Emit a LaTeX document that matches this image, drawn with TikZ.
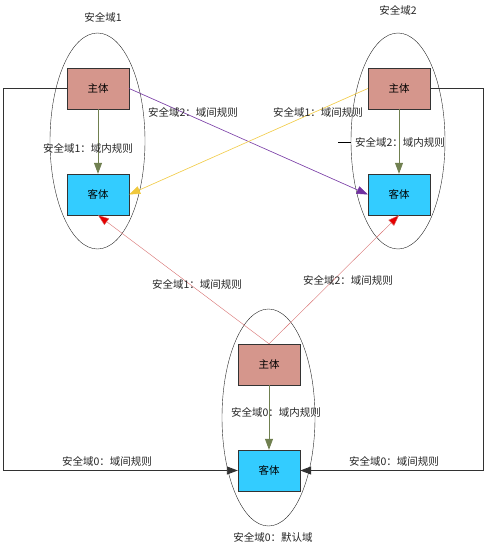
\documentclass[tikz,border=0pt]{standalone}
\usepackage{fontspec}
\setmainfont{Noto Sans CJK SC}
\usetikzlibrary{arrows.meta}
\definecolor{subjfill}{RGB}{213,150,140}
\definecolor{objfill}{RGB}{51,204,255}
\definecolor{inner}{RGB}{112,128,80}
\definecolor{purp}{RGB}{112,48,160}
\definecolor{yell}{RGB}{240,200,60}
\definecolor{redline}{RGB}{215,110,110}
\definecolor{wire}{RGB}{50,50,50}
\tikzset{
  subj/.style={draw=black!80, fill=subjfill, minimum width=62pt, minimum height=41pt, inner sep=0pt, font=\fontsize{10.5}{12}\selectfont},
  obj/.style={draw=black!80, fill=objfill, minimum width=62pt, minimum height=41pt, inner sep=0pt, font=\fontsize{10.5}{12}\selectfont},
  lbl/.style={inner sep=1pt, text=black!85, font=\fontsize{10.5}{12}\selectfont},
  tip/.style={-{Triangle[length=11pt,width=8pt]}},
  redtip/.style={-{Triangle[length=11pt,width=8pt,fill=red!90!black]}},
}
\begin{document}
\begin{tikzpicture}[x=1pt,y=-1pt]
\useasboundingbox (0,0) rectangle (485,548);

% Domains
\draw[black!85] (97.5,141) ellipse [x radius=47.5, y radius=108];
\draw[black!85] (398,141) ellipse [x radius=47, y radius=108];
\draw[black!85] (268.5,417.5) ellipse [x radius=46.5, y radius=108.5];
\node[lbl] (d1) at (103,17) {安全域1};
\node[lbl] (d2) at (398,10) {安全域2};
\node[lbl] (d0) at (273,537) {安全域0：默认域};

% Subjects and objects
\node[subj] (s1) at (98,88.5) {主体};
\node[obj] (o1) at (98,194.5) {客体};
\node[subj] (s2) at (399,88.5) {主体};
\node[obj] (o2) at (399,194.5) {客体};
\node[subj] (s0) at (269,364.5) {主体};
\node[obj] (o0) at (269,470.5) {客体};

% Rules inside a domain
\draw[inner, thick, tip] (s1) -- (o1);
\draw[inner, thick, tip] (s2) -- (o2);
\draw[inner, thick, tip] (s0) -- (o0);
\node[lbl] (r1) at (88,148) {安全域1：域内规则};
\node[lbl] (r2) at (400,142) {安全域2：域内规则};
\node[lbl] (r0) at (276,412) {安全域0：域内规则};
\draw[black] (338,142) -- (351,142);

% Rules between domains 1 and 2
\draw[purp, semithick, tip] (s1.east) -- (o2.west);
\draw[yell, semithick, tip] (s2.west) -- (o1.east);
\node[lbl] (x12) at (193,112) {安全域2：域间规则};
\node[lbl] (x21) at (318,112) {安全域1：域间规则};

% Rules from domain 0
\draw[redline, redtip] (s0.north) -- (o1.south);
\draw[redline, redtip] (s0.north) -- (o2.south);
\node[lbl] (x01) at (197,284) {安全域1：域间规则};
\node[lbl] (x02) at (348,280) {安全域2：域间规则};

% Rules into domain 0
\coordinate (lc) at (3,88.5);
\coordinate (rc) at (483,88.5);
\draw[wire, line width=0.9pt, tip] (s1.west) -- (lc) |- (o0.west);
\draw[wire, line width=0.9pt, tip] (s2.east) -- (rc) |- (o0.east);
\node[lbl] (x10) at (107,461) {安全域0：域间规则};
\node[lbl] (x20) at (394,461) {安全域0：域间规则};
\end{tikzpicture}
\end{document}
